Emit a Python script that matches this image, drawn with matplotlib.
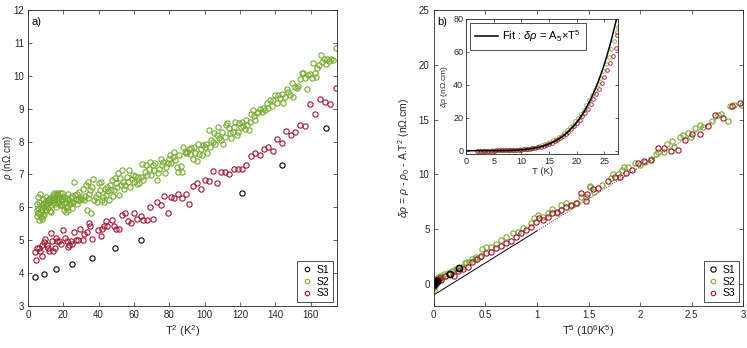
import matplotlib
matplotlib.use("Agg")
import matplotlib.pyplot as plt
import numpy as np

plt.rcParams['font.family'] = ['Liberation Sans', 'DejaVu Sans']
plt.rcParams['mathtext.fontset'] = 'custom'
plt.rcParams['mathtext.rm'] = 'Liberation Sans'
plt.rcParams['mathtext.it'] = 'Liberation Sans:italic'

GREEN = '#77AC30'
RED = '#A2142F'
GRAY = '#262626'

# ---------------- panel a) : rho vs T^2 ----------------
s1_T2 = [4, 9, 16, 25, 36, 49, 64, 121, 144, 169]
s1_rho = [3.87, 3.96, 4.12, 4.28, 4.47, 4.75, 5.02, 6.44, 7.29, 8.42]

s2_T2 = [5.3, 5.5, 5.7, 6.2, 6.4, 6.8, 6.8, 7.2, 7.6, 7.9, 8.3, 8.7, 8.9, 9.3, 9.6, 10.0, 10.4, 10.8,
         11.1, 11.5, 12.1, 12.5, 12.8, 13.2, 13.6, 14.0, 14.3, 14.7, 15.1, 15.5, 15.9, 16.2, 16.6, 17.0,
         17.4, 17.7, 18.1, 18.7, 19.1, 19.4, 19.8, 20.2, 20.6, 20.9, 21.3, 21.9, 22.3, 22.7, 23.2, 23.8,
         24.2, 24.7, 25.1, 25.7, 26.1, 26.6, 27.2, 27.6, 28.0, 28.5, 29.1, 29.5, 30.0, 30.6, 31.3, 31.7,
         32.3, 32.8, 33.2, 33.8, 34.2, 34.7, 35.3, 35.9, 36.2, 37.0, 37.6, 38.3, 38.9, 39.5, 40.2, 40.8,
         41.3, 41.9, 42.5, 43.0, 43.6, 44.2, 44.6, 45.1, 45.7, 46.3, 46.8, 47.4, 48.0, 48.5, 49.1, 49.7,
         50.2, 50.8, 51.4, 51.9, 52.7, 53.2, 53.8, 54.4, 55.1, 55.9, 56.6, 57.4, 58.0, 58.7, 59.5, 60.0,
         60.8, 61.5, 62.3, 63.1, 63.8, 64.6, 65.3, 66.1, 66.8, 67.6, 68.3, 69.1, 69.9, 70.6, 71.4, 72.1,
         72.9, 73.7, 74.4, 75.1, 75.9, 76.7, 77.4, 78.2, 79.0, 79.7, 80.4, 81.2, 81.9, 82.7, 83.4, 84.2,
         85.0, 85.7, 86.5, 87.2, 88.0, 88.7, 89.5, 90.2, 91.0, 91.8, 92.5, 93.3, 94.0, 94.8, 95.5, 96.3,
         97.0, 97.8, 98.5, 99.3, 100.1, 100.8, 101.6, 102.3, 103.1, 103.8, 104.6, 105.3, 106.1, 106.9,
         107.6, 108.4, 109.1, 109.9, 110.6, 111.4, 112.1, 112.9, 113.6, 114.4, 115.2, 115.9, 116.7,
         117.4, 118.2, 118.9, 119.7, 120.4, 121.2, 121.9, 122.7, 123.4, 124.2, 125.0, 125.7, 126.5,
         127.2, 128.0, 128.8, 129.5, 130.5, 131.4, 132.3, 133.3, 134.2, 135.2, 136.1, 137.1, 138.0,
         139.0, 139.9, 140.8, 141.8, 142.7, 143.7, 144.6, 145.6, 146.5, 147.5, 148.4, 149.4, 150.3,
         151.2, 152.2, 153.1, 154.1, 155.0, 156.0, 156.9, 157.9, 158.8, 159.7, 160.7, 161.6, 162.5,
         163.1, 163.9, 164.8, 165.8, 166.7, 167.6, 168.8, 169.5, 170.5, 171.4, 172.6, 174.2,
         4.9, 5.1, 5.9, 7.4, 8.1, 8.5, 9.5, 10.2, 11.7, 12.6, 14.2, 14.9, 16.1, 17.2, 18.3, 19.3,
         20.4, 21.5, 22.8, 24.4]
s2_rho = [5.73, 5.83, 5.97, 5.61, 6.15, 6.42, 5.81, 6.00, 5.92, 5.63, 6.10, 6.24, 5.81, 6.02, 6.15, 6.32, 5.92, 6.10,
          6.22, 5.98, 6.15, 6.27, 6.08, 5.86, 6.22, 6.32, 6.37, 6.44, 6.10, 6.26, 6.37, 6.15, 6.44, 6.24,
          6.12, 6.32, 6.44, 6.22, 6.08, 6.44, 6.24, 5.93, 6.10, 6.15, 5.86, 6.29, 6.02, 6.42, 6.22, 6.10,
          6.27, 6.34, 5.98, 6.15, 6.78, 6.37, 6.24, 6.10, 6.42, 6.22, 6.47, 6.22, 6.27, 6.24, 6.57, 6.22,
          6.34, 6.67, 5.93, 6.27, 6.78, 6.42, 6.53, 5.84, 6.62, 6.85, 6.22, 6.32, 6.15, 6.42, 6.75, 6.52,
          6.78, 6.22, 6.32, 6.15, 6.57, 6.37, 6.62, 6.50, 6.22, 6.67, 6.52, 6.83, 6.34, 6.54, 6.88, 6.75,
          6.62, 7.03, 6.37, 6.88, 6.67, 7.15, 6.78, 6.57, 6.67, 6.93, 6.78, 7.13, 6.62, 6.85, 6.98, 6.78,
          6.95, 6.70, 6.91, 6.75, 6.93, 7.31, 6.83, 7.08, 7.29, 6.98, 7.18, 7.39, 6.98, 7.29, 7.13, 7.36,
          6.83, 7.03, 7.18, 7.46, 7.29, 7.39, 7.03, 7.23, 7.36, 7.46, 7.59, 7.34, 7.52, 7.69, 7.44, 7.23,
          7.08, 7.59, 7.26, 7.08, 7.84, 7.69, 7.64, 7.69, 7.76, 7.62, 7.79, 7.46, 7.84, 7.64, 7.42, 7.94,
          7.62, 7.76, 7.59, 7.91, 7.84, 7.94, 7.66, 8.35, 7.84, 8.06, 7.98, 8.27, 7.94, 8.20,
          8.43, 8.12, 8.04, 8.30, 7.94, 8.14, 8.50, 8.55, 8.40, 8.25, 8.12, 8.30, 8.45,
          8.60, 8.20, 8.30, 8.55, 8.45, 8.60, 8.47, 8.37, 8.65, 8.50, 8.35, 8.60, 8.84,
          8.96, 8.78, 8.65, 8.88, 8.91, 8.98, 8.91, 9.01, 8.96, 9.16, 9.01, 9.26, 9.08,
          9.26, 9.41, 9.16, 9.41, 9.31, 9.46, 9.16, 9.36, 9.59, 9.51, 9.41, 9.77, 9.34,
          9.65, 9.62, 9.69, 9.89, 10.09, 10.07, 9.92, 9.59, 10.02, 10.05, 9.92, 10.40, 10.09,
          9.95, 10.23, 10.33, 10.63, 10.43, 10.50, 10.36, 10.50, 10.46, 10.50, 10.48, 10.83,
          5.92, 6.10, 6.30, 5.71, 5.92, 5.73, 5.93, 6.10, 6.24, 5.90, 6.14, 6.22, 6.02, 6.42, 6.08, 6.24,
          6.32, 6.00, 5.93, 6.15]

s3_T2 = [3.96, 4.3, 4.9, 6.2, 6.8, 7.7, 8.1, 9.1, 9.8, 10.6, 11.3, 11.9, 12.8, 13.8, 14.3, 15.3, 15.9,
         16.6, 17.7, 18.7, 19.6, 20.9, 21.9, 22.5, 23.2, 24.2, 24.7, 26.1, 27.2, 28.5, 29.5, 31.0, 31.7,
         33.2, 34.4, 35.1, 36.2, 39.5, 41.2, 42.1, 43.0, 44.2, 45.0, 47.4, 48.7, 49.8, 51.7, 53.4, 54.9,
         56.8, 58.3, 60.0, 61.5, 63.8, 65.3, 67.2, 69.1, 71.0, 73.2, 75.1, 77.0, 79.1, 80.8, 82.7, 85.1,
         87.0, 89.3, 91.4, 93.6, 95.7, 98.2, 100.1, 102.5, 104.8, 106.9, 109.1, 111.8, 114.0, 116.7,
         118.7, 121.2, 123.4, 126.1, 128.8, 131.4, 133.7, 136.1, 138.6, 140.8, 143.7, 146.1, 148.9,
         151.4, 154.0, 156.9, 159.7, 162.5, 165.4, 168.2, 171.0, 174.2]
s3_rho = [4.63, 4.41, 4.75, 4.75, 4.68, 4.52, 4.85, 4.95, 5.03, 4.85, 4.75, 4.68, 5.22, 4.98, 4.68, 4.75, 5.07,
          4.98, 4.98, 4.90, 5.31, 5.07, 4.98, 4.78, 4.85, 4.98, 4.87, 5.24, 5.02, 5.02, 5.33, 5.02, 5.18,
          5.26, 5.53, 5.42, 5.03, 5.31, 5.13, 5.33, 5.43, 5.59, 5.43, 5.61, 5.43, 5.33, 5.33, 5.78, 5.83,
          5.58, 5.53, 5.84, 5.66, 5.74, 5.61, 5.61, 6.02, 5.66, 6.17, 6.07, 6.35, 5.84, 6.30, 6.27, 6.42,
          6.27, 6.42, 6.10, 6.65, 6.75, 6.55, 6.83, 6.80, 7.11, 6.75, 7.06, 7.06, 7.01, 7.18,
          7.18, 7.18, 7.30, 7.57, 7.64, 7.59, 7.77, 7.82, 7.72, 8.08, 7.97, 8.33, 8.20,
          8.30, 8.50, 8.48, 9.14, 8.83, 9.28, 9.19, 9.13, 9.64]

# ---------------- panel b) : delta rho vs T^5 ----------------
b_s1_x = [0.0, 0.0002, 0.001, 0.003, 0.008, 0.017, 0.033, 0.161, 0.249]
b_s1_y = [0.0, 0.1, 0.05, 0.1, 0.15, 0.2, 0.3, 0.9, 1.45]

b_s2_x = [0.0, 0.0, 0.001, 0.002, 0.004, 0.006, 0.008, 0.010, 0.013, 0.016, 0.020, 0.025, 0.030,
          0.032, 0.040, 0.050, 0.060, 0.074, 0.080, 0.10, 0.122, 0.14, 0.18, 0.20, 0.22, 0.24,
          0.277, 0.30, 0.316, 0.34, 0.374, 0.40, 0.413, 0.45, 0.47, 0.51, 0.558, 0.607, 0.655,
          0.703, 0.768, 0.817, 0.866, 0.946, 0.975, 1.01, 1.06, 1.107, 1.149, 1.19, 1.236, 1.285,
          1.333, 1.389, 1.43, 1.473, 1.51, 1.515, 1.556, 1.628, 1.718, 1.74, 1.789, 1.828, 1.847,
          1.886, 1.951, 2.0, 2.048, 2.11, 2.15, 2.176, 2.235, 2.264, 2.31, 2.33, 2.387, 2.42,
          2.467, 2.49, 2.53, 2.58, 2.61, 2.694, 2.75, 2.78, 2.85, 2.87, 2.91, 2.99]
b_s2_y = [-0.5, -0.3, 0.0, 0.2, -0.2, 0.3, 0.1, 0.4, -0.1, 0.2, 0.5, 0.3, 0.1,
          0.39, 0.6, 0.4, 0.7, 0.64, 0.6, 0.9, 0.75, 1.0, 1.15, 1.3, 1.36, 1.5,
          1.6, 1.9, 2.05, 2.0, 2.27, 2.3, 2.45, 2.5, 3.18, 3.42, 3.36, 3.66, 4.03,
          4.33, 4.69, 4.78, 5.09, 5.55, 6.0, 6.3, 6.15, 6.51, 6.82, 6.51, 7.21, 7.36,
          7.12, 7.36, 7.91, 7.96, 8.94, 8.87, 8.42, 9.03, 9.64, 10.03, 10.0, 10.39, 10.64,
          10.64, 11.06, 10.85, 11.15, 11.45, 11.85, 12.06, 12.06, 12.82, 13.06, 12.51, 13.42, 13.57,
          13.79, 13.42, 14.27, 14.48, 14.33, 14.87, 15.39, 15.54, 14.87, 16.21, 16.3, 16.3]

b_s3_x = [0.0, 0.001, 0.003, 0.005, 0.008, 0.012, 0.018, 0.025, 0.035, 0.045, 0.058, 0.075,
          0.107, 0.148, 0.194, 0.235, 0.284, 0.332, 0.374, 0.42, 0.461, 0.51, 0.558, 0.607, 0.655,
          0.703, 0.752, 0.80, 0.849, 0.897, 0.946, 0.994, 1.02, 1.06, 1.107, 1.149, 1.195, 1.236,
          1.285, 1.333, 1.382, 1.43, 1.473, 1.485, 1.547, 1.595, 1.69, 1.757, 1.805, 1.86, 1.92,
          1.98, 2.04, 2.105, 2.17, 2.235, 2.30, 2.364, 2.435, 2.506, 2.578, 2.655, 2.73, 2.806,
          2.888, 2.968]
b_s3_y = [-0.2, 0.1, -0.1, 0.2, 0.0, 0.3, 0.1, 0.24, 0.2, 0.5, 0.55, 0.4,
          0.75, 0.94, 0.75, 1.15, 1.36, 1.6, 2.05, 2.27, 2.57, 2.82, 2.97, 3.27, 3.48,
          3.78, 3.97, 4.33, 4.69, 4.94, 5.24, 5.69, 6.0, 5.85, 6.15, 6.51, 6.6, 6.75,
          7.06, 7.21, 7.36, 8.33, 7.6, 8.18, 8.69, 8.73, 9.39, 9.73, 9.73, 10.09, 10.39,
          11.0, 11.24, 11.36, 12.42, 12.42, 12.15, 12.21, 13.18, 13.73, 13.73, 14.39, 15.39, 15.18,
          16.24, 16.51]

# fit line in main panel b)  (delta rho = slope * T^5 + offset)
fit_main_slope = 5.85
fit_main_offset = -1.0

# ---------------- inset : delta rho vs T ----------------
in_s3_T = [2, 2.5, 3, 3.5, 4, 4.5, 5, 5.5, 6, 6.5, 7, 7.5, 8, 8.5, 9, 9.5, 10, 10.5, 11, 11.5, 12,
           12.5, 13, 13.5, 14, 14.5, 15, 15.5, 16, 16.5, 17, 17.5, 18, 18.5, 19, 19.5, 20, 20.5, 21,
           21.5, 22, 22.5, 23, 23.5, 24, 24.5, 25, 25.5, 26, 26.5, 27, 27.3]
in_s3_d = [0.1, 0.0, 0.1, 0.0, 0.1, 0.1, 0.1, 0.2, 0.2, 0.2, 0.3, 0.3, 0.3, 0.4, 0.5, 0.6, 0.7, 0.8,
           1.0, 1.2, 1.5, 1.8, 2.1, 2.5, 3.0, 3.5, 4.2, 4.9, 5.8, 6.6, 7.7, 8.8, 10.1, 11.5, 13.0,
           14.7, 16.6, 18.6, 20.8, 23.1, 25.6, 28.3, 31.2, 34.3, 37.6, 41.1, 44.8, 48.8, 53.0, 57.5,
           62.2, 70.2]
in_s2_T = [2.25, 2.75, 3.25, 3.75, 4.25, 4.75, 5.25, 5.75, 6.25, 6.75, 7.25, 7.75, 8.25, 8.75, 9.25,
           9.75, 10.25, 10.75, 11.25, 11.75, 12.25, 12.75, 13.25, 13.75, 14.25, 14.75, 15.25, 15.75,
           16.25, 16.75, 17.25, 17.75, 18.25, 18.75, 19.25, 19.75, 20.25, 20.75, 21.25, 21.75, 22.25,
           22.75, 23.25, 23.75, 24.25, 24.75, 25.25, 25.75, 26.25, 26.75, 27.25, 27.5]
in_s2_d = [0.0, 0.1, 0.0, 0.1, 0.1, 0.2, 0.1, 0.2, 0.3, 0.3, 0.3, 0.4, 0.5, 0.5, 0.6, 0.8, 0.9, 1.1,
           1.3, 1.6, 1.9, 2.3, 2.7, 3.2, 3.8, 4.5, 5.3, 6.2, 7.2, 8.3, 9.5, 10.9, 12.4, 14.1, 15.9,
           17.9, 20.0, 22.4, 24.9, 27.6, 30.5, 33.6, 36.9, 40.4, 44.2, 48.2, 52.4, 56.9, 61.6, 66.6,
           71.8, 75.0]
fit_A5 = 5.4e-6  # fit coefficient (nOhm.cm / K^5)

fig = plt.figure(figsize=(7.47, 3.48), dpi=100)

def style(ax, fs=7):
    ax.tick_params(direction='in', top=True, right=True, length=3, width=0.5,
                   labelsize=fs, colors=GRAY, pad=3)
    for s in ax.spines.values():
        s.set_color(GRAY)
        s.set_linewidth(0.6)

mk = dict(marker='o', linestyle='none', markerfacecolor='none', markersize=3.8, markeredgewidth=0.8)

# ---- panel a ----
axa = fig.add_axes([0.0375, 0.1207, 0.4137, 0.8506])
axa.plot(s1_T2, s1_rho, color='black', label='S1', **mk)
axa.plot(s2_T2, s2_rho, color=GREEN, label='S2', **mk)
axa.plot(s3_T2, s3_rho, color=RED, label='S3', **mk)
axa.set_xlim(0, 175)
axa.set_ylim(3, 12)
axa.set_xticks(np.arange(0, 161, 20))
axa.set_yticks(np.arange(3, 13, 1))
style(axa)
axa.set_xlabel('T$^2$ (K$^2$)', fontsize=8, color=GRAY, labelpad=2)
axa.set_ylabel(r'$\rho$ (n$\Omega$.cm)', fontsize=7, color=GRAY)
axa.yaxis.set_label_coords(-0.043, 0.5)
axa.text(0.012, 0.975, 'a)', transform=axa.transAxes, fontsize=8, color='black', va='top', ha='left')
leg = axa.legend(loc='lower right', fontsize=7.5, handletextpad=0.3, handlelength=1.2,
                 borderpad=0.35, labelspacing=0.15, fancybox=False, borderaxespad=0.4,
                 markerscale=0.85)
leg.get_frame().set_edgecolor('black')
leg.get_frame().set_linewidth(0.6)

# ---- panel b ----
axb = fig.add_axes([0.5806, 0.1207, 0.4145, 0.8506])
axb.plot(b_s2_x, b_s2_y, color=GREEN, label='S2', **mk)
axb.plot(b_s3_x, b_s3_y, color=RED, label='S3', **mk)
axb.plot(b_s1_x, b_s1_y, color='black', marker='o', linestyle='none', markerfacecolor='none',
         markersize=4.5, markeredgewidth=1.1, label='S1')
xl1 = np.array([0.0, 1.0])
xl2 = np.array([1.0, 2.81])
axb.plot(xl1, fit_main_slope * xl1 + fit_main_offset, color='black', lw=0.7, zorder=1)
axb.plot(xl2, fit_main_slope * xl2 + fit_main_offset, color='0.3', lw=0.7, ls=(0, (1.2, 1.2)), zorder=1)
axb.set_xlim(0, 3)
axb.set_ylim(-2, 25)
axb.set_xticks([0, 0.5, 1, 1.5, 2, 2.5, 3])
axb.set_xticklabels(['0', '0.5', '1', '1.5', '2', '2.5', '3'])
axb.set_yticks(np.arange(0, 26, 5))
style(axb)
axb.set_xlabel('T$^5$ (10$^6$K$^5$)', fontsize=8, color=GRAY, labelpad=2)
axb.set_ylabel(r'$\delta\rho$ = $\rho$ - $\rho_0$ - A.T$^2$ (n$\Omega$.cm)', fontsize=7.5,
               color=GRAY, labelpad=5)
axb.text(0.012, 0.975, 'b)', transform=axb.transAxes, fontsize=8, color='black', va='top', ha='left')
h, l = axb.get_legend_handles_labels()
order = [l.index('S1'), l.index('S2'), l.index('S3')]
legb = axb.legend([h[i] for i in order], [l[i] for i in order], loc='lower right', fontsize=7.5,
                  handletextpad=0.3, handlelength=1.2, borderpad=0.35, labelspacing=0.15,
                  fancybox=False, borderaxespad=0.4, markerscale=0.85)
legb.get_frame().set_edgecolor('black')
legb.get_frame().set_linewidth(0.6)
legb.legend_handles[0].set_markersize(3.8)
legb.legend_handles[0].set_markeredgewidth(0.8)

# ---- inset ----
axi = fig.add_axes([0.6238, 0.5575, 0.2039, 0.388])
mki = dict(marker='o', linestyle='none', markerfacecolor='none', markersize=2.6, markeredgewidth=0.6)
axi.plot(in_s2_T, in_s2_d, color=GREEN, **mki)
axi.plot(in_s3_T, in_s3_d, color=RED, **mki)
Tf = np.linspace(0, 27.5, 300)
axi.plot(Tf, fit_A5 * Tf ** 5, color='black', lw=1.1, label=r'Fit : $\delta\rho$ = A$_5$$\times$T$^5$')
axi.set_xlim(0, 27.5)
axi.set_ylim(-2, 80)
axi.set_xticks(np.arange(0, 26, 5))
axi.set_yticks(np.arange(0, 81, 20))
style(axi, fs=6.5)
axi.tick_params(length=2, pad=2)
axi.set_xlabel('T (K)', fontsize=6.8, color=GRAY, labelpad=1)
axi.set_ylabel(r'$\delta\rho$ (n$\Omega$.cm)', fontsize=6, color=GRAY, labelpad=2)
legi = axi.legend(loc='upper left', fontsize=8, handlelength=2.0, handletextpad=0.4,
                  borderpad=0.5, fancybox=False, borderaxespad=0.35)
legi.get_frame().set_edgecolor('black')
legi.get_frame().set_linewidth(0.6)

fig.savefig('out.png', dpi=100)
